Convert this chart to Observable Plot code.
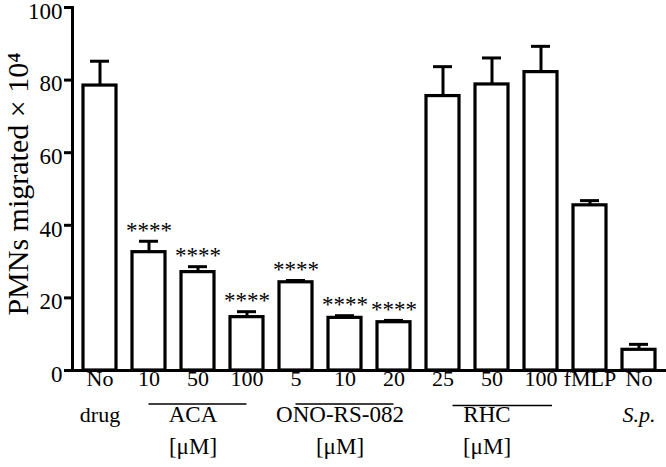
<!DOCTYPE html>
<html>
<head>
<meta charset="utf-8">
<script src="https://cdn.jsdelivr.net/npm/d3@7"></script>
<script src="https://cdn.jsdelivr.net/npm/@observablehq/plot@0.6"></script>
<style>
  html, body { margin: 0; padding: 0; background: #fff; }
  #chart svg, #chart svg text { font-family: "Liberation Serif", "Times New Roman", serif; }
</style>
</head>
<body>
<div id="chart"></div>
<script>
// Categories (unique keys) and their two-line tick labels
const keys = ["No drug", "ACA 10", "ACA 50", "ACA 100", "ONO 5", "ONO 10", "ONO 20", "RHC 25", "RHC 50", "RHC 100", "fMLP", "No S.p."];
const labelLine1 = ["No", "10", "50", "100", "5", "10", "20", "25", "50", "100", "fMLP", "No"];
const labelLine2 = ["drug", "", "", "", "", "", "", "", "", "", "", ""];
const labelLine2Italic = ["", "", "", "", "", "", "", "", "", "", "", "S.p."];

// Mean values and upper error (mean + SEM)
const means = [78.5, 32.6, 27.1, 14.7, 24.3, 14.5, 13.3, 75.6, 78.8, 82.2, 45.5, 5.7];
const errTops = [85.2, 35.6, 28.6, 16.2, 24.8, 15.1, 13.8, 83.7, 86.1, 89.3, 46.8, 7.2];
const stars = ["", "****", "****", "****", "****", "****", "****", "", "", "", "", ""];

// Group annotations
const groupNames = ["ACA", "ONO-RS-082", "RHC"];
const groupStart = ["ACA 10", "ONO 5", "RHC 25"];
const groupEnd = ["ACA 100", "ONO 20", "RHC 100"];
const groupCenter = ["ACA 50", "ONO 10", "RHC 50"];
const groupUnit = ["[\u03bcM]", "[\u03bcM]", "[\u03bcM]"];

const yTicks = [0, 20, 40, 60, 80, 100];
const yLabel = "PMNs migrated \u00d7 10\u2074";

const FONT = "Liberation Serif, Times New Roman, serif";

const data = keys.map((k, i) => ({key: k, mean: means[i], err: errTops[i], stars: stars[i], l1: labelLine1[i], l2: labelLine2[i], l2i: labelLine2Italic[i]}));
const groups = groupNames.map((g, i) => ({name: g, start: groupStart[i], end: groupEnd[i], center: groupCenter[i], unit: groupUnit[i]}));
const groupsAO = groups.slice(0, 2);
const groupsR = groups.slice(2);

const plot = Plot.plot({
  width: 666,
  height: 467,
  marginLeft: 72,
  marginRight: 0,
  marginTop: 7,
  marginBottom: 97,
  style: {background: "#fff", fontFamily: FONT},
  x: {domain: keys, paddingInner: 0.33, paddingOuter: 0.165, insetLeft: 3, insetRight: 3, axis: null},
  y: {domain: [0, 100], axis: null},
  marks: [
    Plot.axisY({ticks: yTicks, tickSize: 8, strokeWidth: 3, tickFormat: () => "", label: null}),
    Plot.text(yTicks, {y: d => d, text: d => String(d), frameAnchor: "left", textAnchor: "end", dx: -10, dy: 4, fontSize: 23, fontFamily: FONT, fill: "#000"}),
    Plot.ruleX(data, {x: "key", y1: "mean", y2: "err", strokeWidth: 3}),
    Plot.tickY(data, {x: "key", y: "err", strokeWidth: 3, insetLeft: 7, insetRight: 7}),
    Plot.barY(data, {x: "key", y: "mean", fill: "#fff", stroke: "#000", strokeWidth: 3.2}),
    Plot.text(data, {x: "key", y: "err", text: "stars", dy: -11, fontSize: 23, fontFamily: FONT}),
    Plot.frame({anchor: "left", strokeWidth: 3}),
    Plot.ruleY([0], {strokeWidth: 3}),
    Plot.text(data, {x: "key", text: "l1", frameAnchor: "bottom", dy: 15.5, fontSize: 22, fontFamily: FONT}),
    Plot.text(data, {x: "key", text: "l2", frameAnchor: "bottom", dy: 51.5, fontSize: 22, fontFamily: FONT}),
    Plot.text(data, {x: "key", text: "l2i", frameAnchor: "bottom", dy: 51.5, fontSize: 22, fontFamily: FONT, fontStyle: "italic"}),
    Plot.ruleY(groupsAO, {y: 0, x1: "start", x2: "end", dy: 33.5, strokeWidth: 1.6, insetLeft: 16.5, insetRight: 16.5}),
    Plot.ruleY(groupsR, {y: 0, x1: "start", x2: "end", dy: 35, dx: 10, strokeWidth: 1.6, insetLeft: 16.5, insetRight: 15}),
    Plot.text(groups, {x: "center", text: "name", frameAnchor: "bottom", dy: 51.5, dx: -5, fontSize: 23, fontFamily: FONT}),
    Plot.text(groups, {x: "center", text: "unit", frameAnchor: "bottom", dy: 83.5, dx: -5, fontSize: 23, fontFamily: FONT}),
    Plot.text([yLabel], {text: d => d, frameAnchor: "left", textAnchor: "middle", rotate: -90, dx: -54, dy: -5, fontSize: 30, fontFamily: FONT})
  ]
});
document.getElementById("chart").appendChild(plot);
</script>
</body>
</html>
